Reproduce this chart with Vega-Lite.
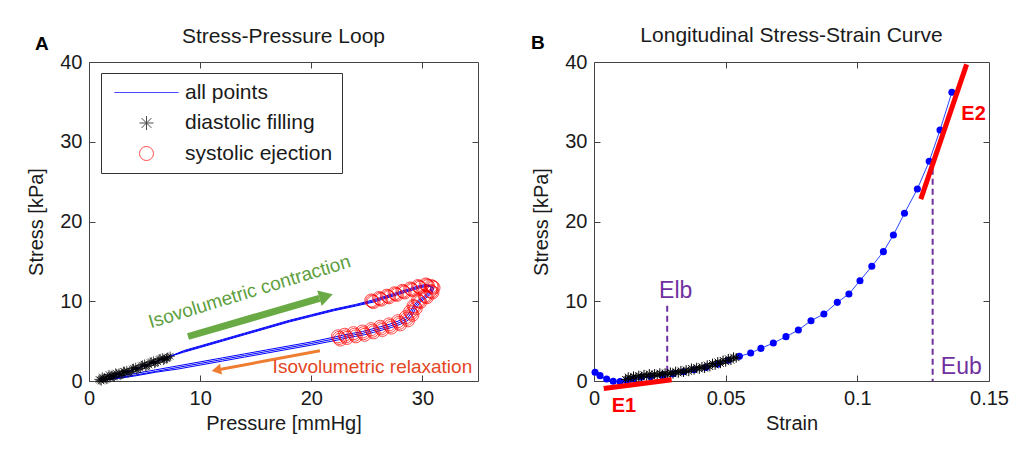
{
"$schema": "https://vega.github.io/schema/vega-lite/v6.json",
"background": "white",
"padding": {"left": 26, "top": 24, "right": 4, "bottom": 4},
"bounds": "flush",
"spacing": 116,
"config": {
  "font": "Liberation Sans",
  "view": {"stroke": "#444", "strokeWidth": 1},
  "axis": {"grid": false, "domain": false, "ticks": true, "tickColor": "#444", "tickSize": -6, "labelPadding": 13, "labelFont": "Liberation Sans", "labelFontSize": 20, "labelColor": "#1a1a1a", "titleFont": "Liberation Sans", "titleFontSize": 20, "titleFontWeight": "normal", "titleColor": "#1a1a1a", "labelFlush": false, "labelOverlap": false},
  "axisX": {"titlePadding": 5},
  "axisY": {"titlePadding": 13},
  "legend": {"labelFont": "Liberation Sans", "labelFontSize": 21, "labelColor": "#1a1a1a"}
},
"datasets": {
  "loop": [
    {"t":1,"p":1.0,"s":0.1,"ph":"diastolic filling"},{"t":2,"p":1.3,"s":0.3,"ph":"diastolic filling"},{"t":3,"p":1.6,"s":0.2,"ph":"diastolic filling"},{"t":4,"p":1.9,"s":0.6,"ph":"diastolic filling"},{"t":5,"p":2.2,"s":0.5,"ph":"diastolic filling"},{"t":6,"p":2.5,"s":0.9,"ph":"diastolic filling"},{"t":7,"p":2.9,"s":0.8,"ph":"diastolic filling"},{"t":8,"p":3.2,"s":1.2,"ph":"diastolic filling"},{"t":9,"p":3.6,"s":1.1,"ph":"diastolic filling"},{"t":10,"p":4.0,"s":1.6,"ph":"diastolic filling"},{"t":11,"p":4.4,"s":1.5,"ph":"diastolic filling"},{"t":12,"p":4.8,"s":2.0,"ph":"diastolic filling"},{"t":13,"p":5.2,"s":1.9,"ph":"diastolic filling"},{"t":14,"p":5.6,"s":2.4,"ph":"diastolic filling"},{"t":15,"p":6.0,"s":2.3,"ph":"diastolic filling"},{"t":16,"p":6.4,"s":2.8,"ph":"diastolic filling"},{"t":17,"p":6.8,"s":2.7,"ph":"diastolic filling"},{"t":18,"p":7.1,"s":3.0,"ph":"diastolic filling"},
    {"t":19,"p":8.5,"s":3.7,"ph":"contraction"},{"t":20,"p":10,"s":4.3,"ph":"contraction"},{"t":21,"p":12,"s":5.1,"ph":"contraction"},{"t":22,"p":14,"s":5.9,"ph":"contraction"},{"t":23,"p":16,"s":6.7,"ph":"contraction"},{"t":24,"p":18,"s":7.5,"ph":"contraction"},{"t":25,"p":20,"s":8.2,"ph":"contraction"},{"t":26,"p":22,"s":8.9,"ph":"contraction"},{"t":27,"p":24,"s":9.5,"ph":"contraction"},
    {"t":28,"p":25.5,"s":10.0,"ph":"systolic ejection"},{"t":29,"p":26.2,"s":10.3,"ph":"systolic ejection"},{"t":30,"p":26.9,"s":10.6,"ph":"systolic ejection"},{"t":31,"p":27.6,"s":10.9,"ph":"systolic ejection"},{"t":32,"p":28.3,"s":11.2,"ph":"systolic ejection"},{"t":33,"p":29.0,"s":11.5,"ph":"systolic ejection"},{"t":34,"p":29.7,"s":11.8,"ph":"systolic ejection"},{"t":35,"p":30.4,"s":12.0,"ph":"systolic ejection"},{"t":36,"p":30.9,"s":11.8,"ph":"systolic ejection"},{"t":37,"p":30.8,"s":11.2,"ph":"systolic ejection"},{"t":38,"p":30.3,"s":10.6,"ph":"systolic ejection"},{"t":39,"p":29.7,"s":10.0,"ph":"systolic ejection"},{"t":40,"p":29.3,"s":9.3,"ph":"systolic ejection"},{"t":41,"p":29.0,"s":8.5,"ph":"systolic ejection"},{"t":42,"p":28.6,"s":7.8,"ph":"systolic ejection"},{"t":43,"p":27.9,"s":7.3,"ph":"systolic ejection"},{"t":44,"p":27.1,"s":6.9,"ph":"systolic ejection"},{"t":45,"p":26.3,"s":6.6,"ph":"systolic ejection"},{"t":46,"p":25.5,"s":6.3,"ph":"systolic ejection"},{"t":47,"p":24.7,"s":6.0,"ph":"systolic ejection"},{"t":48,"p":23.9,"s":5.8,"ph":"systolic ejection"},{"t":49,"p":23.1,"s":5.6,"ph":"systolic ejection"},{"t":50,"p":22.5,"s":5.4,"ph":"systolic ejection"},
    {"t":51,"p":20,"s":4.7,"ph":"relaxation"},{"t":52,"p":18,"s":4.2,"ph":"relaxation"},{"t":53,"p":16,"s":3.7,"ph":"relaxation"},{"t":54,"p":14,"s":3.2,"ph":"relaxation"},{"t":55,"p":12,"s":2.7,"ph":"relaxation"},{"t":56,"p":10,"s":2.2,"ph":"relaxation"},{"t":57,"p":8,"s":1.7,"ph":"relaxation"},{"t":58,"p":6,"s":1.2,"ph":"relaxation"},{"t":59,"p":4,"s":0.7,"ph":"relaxation"},{"t":60,"p":2,"s":0.3,"ph":"relaxation"},
    {"t":61,"p":1.1,"s":0.0,"ph":"diastolic filling"},{"t":62,"p":1.4,"s":0.4,"ph":"diastolic filling"},{"t":63,"p":1.7,"s":0.3,"ph":"diastolic filling"},{"t":64,"p":2.0,"s":0.7,"ph":"diastolic filling"},{"t":65,"p":2.3,"s":0.5,"ph":"diastolic filling"},{"t":66,"p":2.7,"s":1.0,"ph":"diastolic filling"},{"t":67,"p":3.0,"s":0.9,"ph":"diastolic filling"},{"t":68,"p":3.4,"s":1.3,"ph":"diastolic filling"},{"t":69,"p":3.8,"s":1.2,"ph":"diastolic filling"},{"t":70,"p":4.2,"s":1.7,"ph":"diastolic filling"},{"t":71,"p":4.6,"s":1.6,"ph":"diastolic filling"},{"t":72,"p":5.0,"s":2.1,"ph":"diastolic filling"},{"t":73,"p":5.4,"s":2.0,"ph":"diastolic filling"},{"t":74,"p":5.8,"s":2.5,"ph":"diastolic filling"},{"t":75,"p":6.2,"s":2.4,"ph":"diastolic filling"},{"t":76,"p":6.6,"s":2.9,"ph":"diastolic filling"},{"t":77,"p":7.0,"s":2.8,"ph":"diastolic filling"},{"t":78,"p":7.3,"s":3.1,"ph":"diastolic filling"},
    {"t":79,"p":8.5,"s":3.6,"ph":"contraction"},{"t":80,"p":10,"s":4.2,"ph":"contraction"},{"t":81,"p":12,"s":5.0,"ph":"contraction"},{"t":82,"p":14,"s":5.8,"ph":"contraction"},{"t":83,"p":16,"s":6.6,"ph":"contraction"},{"t":84,"p":18,"s":7.4,"ph":"contraction"},{"t":85,"p":20,"s":8.1,"ph":"contraction"},{"t":86,"p":22,"s":8.8,"ph":"contraction"},{"t":87,"p":24,"s":9.4,"ph":"contraction"},
    {"t":88,"p":25.6,"s":9.9,"ph":"systolic ejection"},{"t":89,"p":26.3,"s":10.2,"ph":"systolic ejection"},{"t":90,"p":27.0,"s":10.5,"ph":"systolic ejection"},{"t":91,"p":27.7,"s":10.8,"ph":"systolic ejection"},{"t":92,"p":28.4,"s":11.1,"ph":"systolic ejection"},{"t":93,"p":29.1,"s":11.4,"ph":"systolic ejection"},{"t":94,"p":29.8,"s":11.7,"ph":"systolic ejection"},{"t":95,"p":30.5,"s":11.9,"ph":"systolic ejection"},{"t":96,"p":31.0,"s":11.7,"ph":"systolic ejection"},{"t":97,"p":30.9,"s":11.1,"ph":"systolic ejection"},{"t":98,"p":30.4,"s":10.5,"ph":"systolic ejection"},{"t":99,"p":29.8,"s":9.9,"ph":"systolic ejection"},{"t":100,"p":29.4,"s":9.1,"ph":"systolic ejection"},{"t":101,"p":29.1,"s":8.3,"ph":"systolic ejection"},{"t":102,"p":28.7,"s":7.6,"ph":"systolic ejection"},{"t":103,"p":28.0,"s":7.1,"ph":"systolic ejection"},{"t":104,"p":27.2,"s":6.7,"ph":"systolic ejection"},{"t":105,"p":26.4,"s":6.4,"ph":"systolic ejection"},{"t":106,"p":25.6,"s":6.1,"ph":"systolic ejection"},{"t":107,"p":24.8,"s":5.8,"ph":"systolic ejection"},{"t":108,"p":24.0,"s":5.6,"ph":"systolic ejection"},{"t":109,"p":23.2,"s":5.4,"ph":"systolic ejection"},{"t":110,"p":22.6,"s":5.2,"ph":"systolic ejection"},
    {"t":111,"p":20,"s":4.5,"ph":"relaxation"},{"t":112,"p":18,"s":4.0,"ph":"relaxation"},{"t":113,"p":16,"s":3.5,"ph":"relaxation"},{"t":114,"p":14,"s":3.0,"ph":"relaxation"},{"t":115,"p":12,"s":2.5,"ph":"relaxation"},{"t":116,"p":10,"s":2.0,"ph":"relaxation"},{"t":117,"p":8,"s":1.5,"ph":"relaxation"},{"t":118,"p":6,"s":1.1,"ph":"relaxation"},{"t":119,"p":4,"s":0.6,"ph":"relaxation"},{"t":120,"p":2,"s":0.2,"ph":"relaxation"},
    {"t":121,"p":0.9,"s":0.2,"ph":"diastolic filling"},{"t":122,"p":1.2,"s":0.5,"ph":"diastolic filling"},{"t":123,"p":1.5,"s":0.3,"ph":"diastolic filling"},{"t":124,"p":1.8,"s":0.8,"ph":"diastolic filling"},{"t":125,"p":2.1,"s":0.6,"ph":"diastolic filling"},{"t":126,"p":2.4,"s":1.0,"ph":"diastolic filling"},{"t":127,"p":2.8,"s":0.7,"ph":"diastolic filling"},{"t":128,"p":3.1,"s":1.2,"ph":"diastolic filling"},{"t":129,"p":3.5,"s":1.0,"ph":"diastolic filling"},{"t":130,"p":3.9,"s":1.5,"ph":"diastolic filling"},{"t":131,"p":4.3,"s":1.4,"ph":"diastolic filling"},{"t":132,"p":4.7,"s":1.9,"ph":"diastolic filling"},{"t":133,"p":5.1,"s":1.8,"ph":"diastolic filling"},{"t":134,"p":5.5,"s":2.3,"ph":"diastolic filling"},{"t":135,"p":5.9,"s":2.2,"ph":"diastolic filling"},{"t":136,"p":6.3,"s":2.7,"ph":"diastolic filling"},{"t":137,"p":6.7,"s":2.6,"ph":"diastolic filling"},{"t":138,"p":7.0,"s":2.9,"ph":"diastolic filling"},
    {"t":139,"p":8.5,"s":3.8,"ph":"contraction"},{"t":140,"p":10,"s":4.4,"ph":"contraction"},{"t":141,"p":12,"s":5.2,"ph":"contraction"},{"t":142,"p":14,"s":6.0,"ph":"contraction"},{"t":143,"p":16,"s":6.8,"ph":"contraction"},{"t":144,"p":18,"s":7.6,"ph":"contraction"},{"t":145,"p":20,"s":8.3,"ph":"contraction"},{"t":146,"p":22,"s":9.0,"ph":"contraction"},{"t":147,"p":24,"s":9.6,"ph":"contraction"},
    {"t":148,"p":25.4,"s":10.1,"ph":"systolic ejection"},{"t":149,"p":26.1,"s":10.4,"ph":"systolic ejection"},{"t":150,"p":26.8,"s":10.7,"ph":"systolic ejection"},{"t":151,"p":27.5,"s":11.0,"ph":"systolic ejection"},{"t":152,"p":28.2,"s":11.3,"ph":"systolic ejection"},{"t":153,"p":28.9,"s":11.6,"ph":"systolic ejection"},{"t":154,"p":29.6,"s":11.9,"ph":"systolic ejection"},{"t":155,"p":30.3,"s":12.1,"ph":"systolic ejection"},{"t":156,"p":30.8,"s":11.9,"ph":"systolic ejection"},{"t":157,"p":30.7,"s":11.3,"ph":"systolic ejection"},{"t":158,"p":30.2,"s":10.7,"ph":"systolic ejection"},{"t":159,"p":29.6,"s":10.1,"ph":"systolic ejection"},{"t":160,"p":29.2,"s":9.4,"ph":"systolic ejection"},{"t":161,"p":28.9,"s":8.7,"ph":"systolic ejection"},{"t":162,"p":28.5,"s":8.0,"ph":"systolic ejection"},{"t":163,"p":27.8,"s":7.5,"ph":"systolic ejection"},{"t":164,"p":27.0,"s":7.1,"ph":"systolic ejection"},{"t":165,"p":26.2,"s":6.8,"ph":"systolic ejection"},{"t":166,"p":25.4,"s":6.5,"ph":"systolic ejection"},{"t":167,"p":24.6,"s":6.2,"ph":"systolic ejection"},{"t":168,"p":23.8,"s":6.0,"ph":"systolic ejection"},{"t":169,"p":23.0,"s":5.8,"ph":"systolic ejection"},{"t":170,"p":22.4,"s":5.6,"ph":"systolic ejection"},
    {"t":171,"p":20,"s":4.9,"ph":"relaxation"},{"t":172,"p":18,"s":4.4,"ph":"relaxation"},{"t":173,"p":16,"s":3.9,"ph":"relaxation"},{"t":174,"p":14,"s":3.4,"ph":"relaxation"},{"t":175,"p":12,"s":2.9,"ph":"relaxation"},{"t":176,"p":10,"s":2.4,"ph":"relaxation"},{"t":177,"p":8,"s":1.9,"ph":"relaxation"},{"t":178,"p":6,"s":1.4,"ph":"relaxation"},{"t":179,"p":4,"s":0.9,"ph":"relaxation"},{"t":180,"p":2,"s":0.4,"ph":"relaxation"},{"t":181,"p":1.0,"s":0.1,"ph":"relaxation"}
  ],
  "curveB": [
    {"strain":0.0004,"stress":1.09},{"strain":0.0023,"stress":0.67},{"strain":0.0048,"stress":0.25},{"strain":0.0073,"stress":-0.04},{"strain":0.0099,"stress":-0.08},{"strain":0.0124,"stress":0.04},{"strain":0.0149,"stress":0.25},{"strain":0.018,"stress":0.46},{"strain":0.0215,"stress":0.55},{"strain":0.026,"stress":0.7},{"strain":0.030,"stress":0.9},{"strain":0.034,"stress":1.15},{"strain":0.038,"stress":1.4},{"strain":0.0425,"stress":1.7},{"strain":0.047,"stress":2.1},{"strain":0.051,"stress":2.6},{"strain":0.0552,"stress":3.09},{"strain":0.0595,"stress":3.51},{"strain":0.0634,"stress":4.09},{"strain":0.0681,"stress":4.76},{"strain":0.0729,"stress":5.56},{"strain":0.0776,"stress":6.39},{"strain":0.0824,"stress":7.56},{"strain":0.0873,"stress":8.40},{"strain":0.0924,"stress":9.86},{"strain":0.0968,"stress":10.91},{"strain":0.101,"stress":12.58},{"strain":0.1055,"stress":14.38},{"strain":0.1099,"stress":16.22},{"strain":0.1137,"stress":18.31},{"strain":0.1179,"stress":21.03},{"strain":0.1228,"stress":24.08},{"strain":0.1273,"stress":27.55},{"strain":0.1314,"stress":31.47},{"strain":0.1359,"stress":36.2}
  ],
  "starsB": [
    {"strain":0.012,"stress":0.2},{"strain":0.013,"stress":0.5},{"strain":0.014,"stress":0.3},{"strain":0.015,"stress":0.6},{"strain":0.016,"stress":0.4},{"strain":0.017,"stress":0.7},{"strain":0.018,"stress":0.5},{"strain":0.019,"stress":0.8},{"strain":0.020,"stress":0.6},{"strain":0.021,"stress":0.9},{"strain":0.022,"stress":0.6},{"strain":0.023,"stress":0.9},{"strain":0.024,"stress":0.7},{"strain":0.025,"stress":1.0},{"strain":0.026,"stress":0.8},{"strain":0.027,"stress":1.0},{"strain":0.028,"stress":0.8},{"strain":0.029,"stress":1.1},{"strain":0.030,"stress":0.9},{"strain":0.031,"stress":1.2},{"strain":0.032,"stress":1.0},{"strain":0.033,"stress":1.3},{"strain":0.034,"stress":1.1},{"strain":0.035,"stress":1.4},{"strain":0.036,"stress":1.2},{"strain":0.037,"stress":1.6},{"strain":0.038,"stress":1.4},{"strain":0.039,"stress":1.7},{"strain":0.040,"stress":1.5},{"strain":0.041,"stress":1.8},{"strain":0.042,"stress":1.6},{"strain":0.043,"stress":2.0},{"strain":0.044,"stress":1.8},{"strain":0.045,"stress":2.2},{"strain":0.046,"stress":2.0},{"strain":0.047,"stress":2.4},{"strain":0.048,"stress":2.2},{"strain":0.049,"stress":2.6},{"strain":0.050,"stress":2.4},{"strain":0.051,"stress":2.8},{"strain":0.052,"stress":2.6},{"strain":0.053,"stress":3.0},{"strain":0.054,"stress":2.9}
  ],
  "fitsB": [
    {"name":"E1","x0":0.0037,"y0":-0.95,"x1":0.0295,"y1":0.16},
    {"name":"E2","x0":0.1241,"y0":22.8,"x1":0.1415,"y1":39.7}
  ],
  "boundsB": [
    {"name":"Elb","strain":0.0278,"stress":9.45},
    {"name":"Eub","strain":0.1286,"stress":26.6}
  ]
},
"hconcat": [
  {
    "width": 389, "height": 319,
    "resolve": {"axis": {"x": "independent", "y": "independent"}},
    "layer": [
      {"data": {"name": "loop"},
       "mark": {"type": "line", "color": "#0000ff", "strokeWidth": 1},
       "encoding": {
         "x": {"field": "p", "type": "quantitative", "scale": {"domain": [0, 35], "nice": false}, "axis": {"orient": "top", "labels": false, "title": null, "values": [10, 20, 30]}},
         "y": {"field": "s", "type": "quantitative", "scale": {"domain": [0, 40], "nice": false}, "axis": {"orient": "right", "labels": false, "title": null, "values": [10, 20, 30]}},
         "order": {"field": "t", "type": "quantitative"}}},
      {"data": {"name": "loop"},
       "transform": [{"filter": "datum.ph == 'diastolic filling'"}],
       "mark": {"type": "point", "filled": false, "size": 90, "strokeWidth": 1},
       "encoding": {
         "x": {"field": "p", "type": "quantitative", "axis": {"values": [0, 10, 20, 30], "title": "Pressure [mmHg]"}},
         "y": {"field": "s", "type": "quantitative", "axis": {"values": [0, 10, 20, 30, 40], "title": "Stress [kPa]"}},
         "color": {"field": "ph", "type": "nominal", "scale": {"domain": ["all points", "diastolic filling", "systolic ejection"], "range": ["#0000ff", "#000000", "#ff0000"]},
           "legend": {"orient": "none", "legendX": 12, "legendY": 11, "title": null, "strokeColor": "#333", "fillColor": "white", "padding": 9, "symbolSize": 196, "symbolStrokeWidth": 1, "symbolOffset": 26, "labelOffset": 28, "rowPadding": 8.5}},
         "shape": {"field": "ph", "type": "nominal", "scale": {"domain": ["all points", "diastolic filling", "systolic ejection"], "range": ["M-4.6,0L4.6,0", "M-1,0L1,0M0,-1L0,1M-0.7,-0.7L0.7,0.7M-0.7,0.7L0.7,-0.7", "circle"]},
           "legend": {"orient": "none", "legendX": 12, "legendY": 11, "title": null, "strokeColor": "#333", "fillColor": "white", "padding": 9, "symbolSize": 196, "symbolStrokeWidth": 1, "symbolOffset": 26, "labelOffset": 28, "rowPadding": 8.5}}}},
      {"data": {"name": "loop"},
       "transform": [{"filter": "datum.ph == 'systolic ejection'"}],
       "mark": {"type": "point", "filled": false, "size": 170, "strokeWidth": 1},
       "encoding": {
         "x": {"field": "p", "type": "quantitative", "axis": null},
         "y": {"field": "s", "type": "quantitative", "axis": null},
         "color": {"field": "ph", "type": "nominal"},
         "shape": {"field": "ph", "type": "nominal"}}},
      {"data": {"values": [{}]},
       "mark": {"type": "rule", "color": "#6aaa45", "strokeWidth": 7, "strokeCap": "butt"},
       "encoding": {
         "x": {"datum": 8.91, "type": "quantitative", "axis": null}, "y": {"datum": 5.58, "type": "quantitative", "axis": null},
         "x2": {"datum": 20.73}, "y2": {"datum": 10.37}}},
      {"data": {"values": [{}]},
       "mark": {"type": "point", "shape": "triangle-right", "filled": true, "color": "#6aaa45", "size": 256, "angle": -16.3, "opacity": 1},
       "encoding": {
         "x": {"datum": 21.33, "type": "quantitative", "axis": null}, "y": {"datum": 10.62, "type": "quantitative", "axis": null}}},
      {"data": {"values": [{}]},
       "mark": {"type": "rule", "color": "#ee7d31", "strokeWidth": 3, "strokeCap": "butt"},
       "encoding": {
         "x": {"datum": 20.78, "type": "quantitative", "axis": null}, "y": {"datum": 3.8, "type": "quantitative", "axis": null},
         "x2": {"datum": 11.88}, "y2": {"datum": 1.48}}},
      {"data": {"values": [{}]},
       "mark": {"type": "point", "shape": "triangle-left", "filled": true, "color": "#ee7d31", "size": 121, "angle": -10.6, "opacity": 1},
       "encoding": {
         "x": {"datum": 11.46, "type": "quantitative", "axis": null}, "y": {"datum": 1.37, "type": "quantitative", "axis": null}}},
      {"data": {"values": [{"label": "Isovolumetric contraction"}]},
       "mark": {"type": "text", "color": "#5d9e3c", "fontSize": 19, "align": "center", "baseline": "alphabetic", "angle": -17},
       "encoding": {
         "x": {"datum": 14.6, "type": "quantitative", "axis": null}, "y": {"datum": 10.47, "type": "quantitative", "axis": null},
         "text": {"field": "label"}}},
      {"data": {"values": [{"label": "Isovolumetric relaxation"}]},
       "mark": {"type": "text", "color": "#e4461f", "fontSize": 19, "align": "center", "baseline": "alphabetic"},
       "encoding": {
         "x": {"datum": 25.5, "type": "quantitative", "axis": null}, "y": {"datum": 0.97, "type": "quantitative", "axis": null},
         "text": {"field": "label"}}},
      {"data": {"values": [{"label": "Stress-Pressure Loop"}]},
       "mark": {"type": "text", "color": "#1a1a1a", "fontSize": 21, "align": "center", "baseline": "alphabetic"},
       "encoding": {
         "x": {"datum": 17.5, "type": "quantitative", "axis": null}, "y": {"datum": 42.38, "type": "quantitative", "axis": null},
         "text": {"field": "label"}}},
      {"data": {"values": [{"label": "A"}]},
       "mark": {"type": "text", "color": "#000000", "fontSize": 19, "fontWeight": "bold", "align": "left", "baseline": "alphabetic"},
       "encoding": {
         "x": {"datum": -4.86, "type": "quantitative", "axis": null}, "y": {"datum": 41.5, "type": "quantitative", "axis": null},
         "text": {"field": "label"}}}
    ]
  },
  {
    "width": 395, "height": 319,
    "resolve": {"axis": {"x": "independent", "y": "independent"}},
    "layer": [
      {"data": {"name": "curveB"},
       "mark": {"type": "line", "color": "#2a44ff", "strokeWidth": 1},
       "encoding": {
         "x": {"field": "strain", "type": "quantitative", "scale": {"domain": [0, 0.15], "nice": false}, "axis": {"orient": "top", "labels": false, "title": null, "values": [0.05, 0.1]}},
         "y": {"field": "stress", "type": "quantitative", "scale": {"domain": [0, 40], "nice": false}, "axis": {"orient": "right", "labels": false, "title": null, "values": [10, 20, 30]}}}},
      {"data": {"name": "curveB"},
       "mark": {"type": "circle", "color": "#0000ff", "size": 50, "opacity": 1},
       "encoding": {
         "x": {"field": "strain", "type": "quantitative", "axis": {"values": [0, 0.05, 0.1, 0.15], "format": ".2~f", "title": "Strain"}},
         "y": {"field": "stress", "type": "quantitative", "axis": {"values": [0, 10, 20, 30, 40], "title": "Stress [kPa]"}}}},
      {"data": {"name": "boundsB"},
       "mark": {"type": "rule", "color": "#7030a0", "strokeWidth": 2, "strokeDash": [6, 4]},
       "encoding": {
         "x": {"field": "strain", "type": "quantitative", "axis": null},
         "y": {"field": "stress", "type": "quantitative", "axis": null},
         "y2": {"datum": 0}}},
      {"data": {"name": "starsB"},
       "mark": {"type": "point", "shape": "M-1,0L1,0M0,-1L0,1M-0.7,-0.7L0.7,0.7M-0.7,0.7L0.7,-0.7", "filled": false, "color": "#000000", "size": 90, "strokeWidth": 1, "opacity": 1},
       "encoding": {
         "x": {"field": "strain", "type": "quantitative", "axis": null},
         "y": {"field": "stress", "type": "quantitative", "axis": null}}},
      {"data": {"name": "fitsB"},
       "mark": {"type": "rule", "color": "#ff0000", "strokeWidth": 5, "strokeCap": "butt"},
       "encoding": {
         "x": {"field": "x0", "type": "quantitative", "axis": null},
         "y": {"field": "y0", "type": "quantitative", "axis": null},
         "x2": {"field": "x1"}, "y2": {"field": "y1"}}},
      {"data": {"values": [{"label": "Elb"}]},
       "mark": {"type": "text", "color": "#7030a0", "fontSize": 23, "align": "left", "baseline": "alphabetic"},
       "encoding": {
         "x": {"datum": 0.0247, "type": "quantitative", "axis": null}, "y": {"datum": 10.4, "type": "quantitative", "axis": null},
         "text": {"field": "label"}}},
      {"data": {"values": [{"label": "Eub"}]},
       "mark": {"type": "text", "color": "#7030a0", "fontSize": 23, "align": "left", "baseline": "alphabetic"},
       "encoding": {
         "x": {"datum": 0.1317, "type": "quantitative", "axis": null}, "y": {"datum": 0.88, "type": "quantitative", "axis": null},
         "text": {"field": "label"}}},
      {"data": {"values": [{"label": "E1"}]},
       "mark": {"type": "text", "color": "#ff0000", "fontSize": 20, "fontWeight": "bold", "align": "left", "baseline": "alphabetic"},
       "encoding": {
         "x": {"datum": 0.0067, "type": "quantitative", "axis": null}, "y": {"datum": -3.89, "type": "quantitative", "axis": null},
         "text": {"field": "label"}}},
      {"data": {"values": [{"label": "E2"}]},
       "mark": {"type": "text", "color": "#ff0000", "fontSize": 20, "fontWeight": "bold", "align": "left", "baseline": "alphabetic"},
       "encoding": {
         "x": {"datum": 0.1395, "type": "quantitative", "axis": null}, "y": {"datum": 32.7, "type": "quantitative", "axis": null},
         "text": {"field": "label"}}},
      {"data": {"values": [{"label": "Longitudinal Stress-Strain Curve"}]},
       "mark": {"type": "text", "color": "#1a1a1a", "fontSize": 21, "align": "center", "baseline": "alphabetic"},
       "encoding": {
         "x": {"datum": 0.075, "type": "quantitative", "axis": null}, "y": {"datum": 42.5, "type": "quantitative", "axis": null},
         "text": {"field": "label"}}},
      {"data": {"values": [{"label": "B"}]},
       "mark": {"type": "text", "color": "#000000", "fontSize": 19, "fontWeight": "bold", "align": "left", "baseline": "alphabetic"},
       "encoding": {
         "x": {"datum": -0.0239, "type": "quantitative", "axis": null}, "y": {"datum": 41.6, "type": "quantitative", "axis": null},
         "text": {"field": "label"}}}
    ]
  }
]
}
